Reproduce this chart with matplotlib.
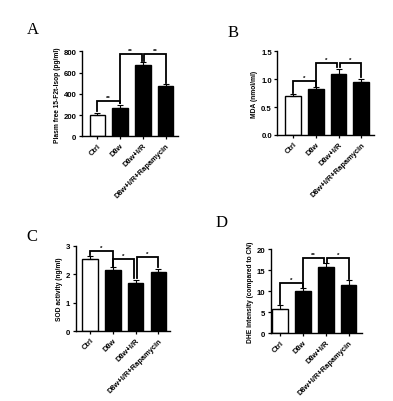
import numpy as np
import matplotlib
matplotlib.use("Agg")
import matplotlib.pyplot as plt

plt.rcParams['font.family'] = ['Liberation Sans', 'DejaVu Sans']

# grupos
grupos = ['Ctrl', 'D8w', 'D8w+I/R', 'D8w+I/R+Rapamycin']

# painel A - isoprostano
A_vals = [205, 270, 670, 470]
A_err = [15, 22, 30, 18]
A_ticks = [0, 200, 400, 600, 800]
A_label = 'Plasm free 15-F2t-Isop (pg/ml)'
A_brackets = [(0, 1, 330, 240, 318, '**'), (1, 2, 775, 318, 705, '**'), (2, 3, 775, 705, 505, '**')]

# painel B - MDA
B_vals = [0.70, 0.82, 1.10, 0.94]
B_err = [0.03, 0.04, 0.08, 0.06]
B_ticks = [0.0, 0.5, 1.0, 1.5]
B_label = 'MDA (nmol/ml)'
B_brackets = [(0, 1, 0.97, 0.76, 0.88, '*'), (1, 2, 1.29, 0.88, 1.21, '*'), (2, 3, 1.29, 1.21, 1.03, '*')]

# painel C - SOD
C_vals = [2.52, 2.15, 1.69, 2.09]
C_err = [0.11, 0.11, 0.11, 0.11]
C_ticks = [0, 1, 2, 3]
C_label = 'SOD activity (ng/ml)'
C_brackets = [(0, 1, 2.82, 2.67, 2.30, '*'), (1, 2, 2.55, 2.30, 1.85, '*'), (2, 3, 2.62, 1.85, 2.24, '*')]

# painel D - DHE
D_vals = [5.9, 10.0, 15.8, 11.6]
D_err = [0.9, 0.8, 0.9, 1.1]
D_ticks = [0, 5, 10, 15, 20]
D_label = 'DHE intensity (compared to CN)'
D_brackets = [(0, 1, 11.9, 7.0, 10.9, '*'), (1, 2, 17.8, 10.9, 16.8, '**'), (2, 3, 17.8, 16.8, 12.8, '*')]


def plotar_painel(fig, pos, xlim, letra, letra_pos, vals, err, ticks, label, brackets, tickfmt):
    ax = fig.add_axes(pos)
    x = np.arange(len(grupos))
    cores = ['white'] + ['black'] * (len(grupos) - 1)
    ax.bar(x, vals, width=0.68, color=cores, edgecolor='black', linewidth=1.0, zorder=2)
    ax.errorbar(x, vals, yerr=[[0] * len(err), err], fmt='none', ecolor='black',
                elinewidth=0.8, capsize=2.2, capthick=0.8, zorder=3)

    # colchetes de significancia
    for i, j, y, yl, yr, txt in brackets:
        xi = x[i] + (0.06 if i == 2 else 0)
        xj = x[j] - (0.06 if j == 2 else 0)
        ax.plot([xi, xi, xj, xj], [yl, y, y, yr], color='black', lw=1.3,
                solid_joinstyle='miter', clip_on=False, zorder=4)
        ax.text((xi + xj) / 2, y + (ticks[-1] - ticks[0]) * 0.012, txt, ha='center', va='bottom',
                fontsize=4.5, fontweight='bold')

    ax.set_xlim(*xlim)
    ax.set_ylim(ticks[0], ticks[-1])
    ax.set_yticks(ticks)
    ax.set_yticklabels([tickfmt.format(t) for t in ticks], fontsize=5.6, fontweight='bold')
    ax.set_xticks(x)
    ax.set_xticklabels(grupos, rotation=45, ha='right', rotation_mode='anchor',
                       fontsize=5.4, fontweight='bold')
    ax.set_ylabel(label, fontsize=4.8, fontweight='bold', labelpad=2)
    for s in ['top', 'right']:
        ax.spines[s].set_visible(False)
    for s in ['left', 'bottom']:
        ax.spines[s].set_linewidth(1.0)
    ax.tick_params(axis='both', width=0.9, length=2.5, pad=1.5)
    fig.text(letra_pos[0], letra_pos[1], letra, fontsize=12, family='Liberation Serif',
             ha='left', va='center')
    return ax


fig = plt.figure(figsize=(3.93, 4.02), dpi=100)

plotar_painel(fig, [0.208, 0.658, 0.245, 0.212], (-0.68, 3.54), 'A', (0.068, 0.925),
              A_vals, A_err, A_ticks, A_label, A_brackets, '{:d}')
plotar_painel(fig, [0.706, 0.662, 0.246, 0.208], (-0.69, 3.57), 'B', (0.578, 0.918),
              B_vals, B_err, B_ticks, B_label, B_brackets, '{:.1f}')
plotar_painel(fig, [0.193, 0.174, 0.240, 0.212], (-0.63, 3.52), 'C', (0.068, 0.41),
              C_vals, C_err, C_ticks, C_label, C_brackets, '{:d}')
plotar_painel(fig, [0.689, 0.168, 0.232, 0.210], (-0.41, 3.58), 'D', (0.548, 0.445),
              D_vals, D_err, D_ticks, D_label, D_brackets, '{:d}')

fig.savefig('out.png', dpi=100)
